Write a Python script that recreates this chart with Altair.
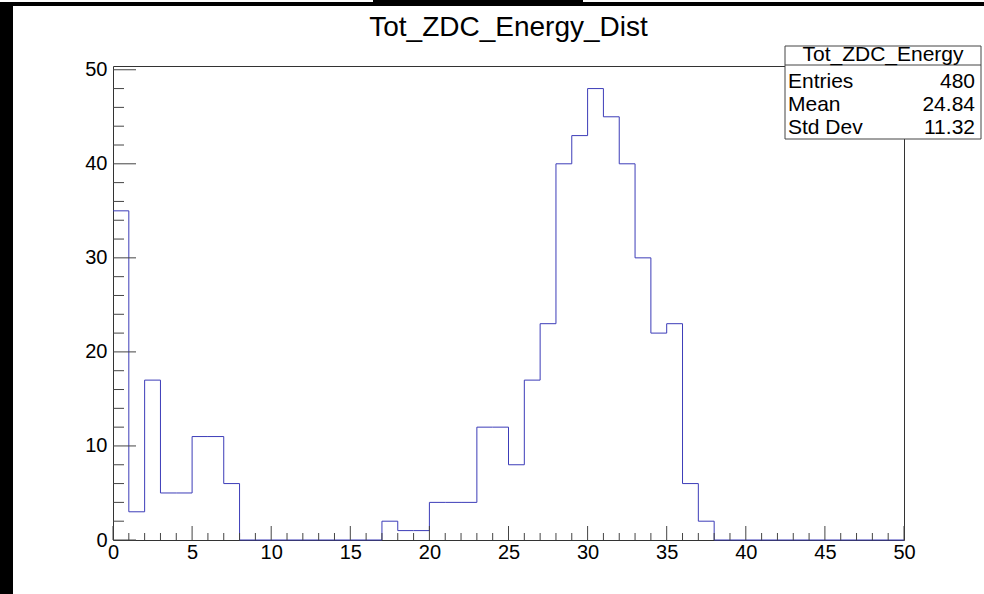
import altair as alt
import pandas as pd

# ---- data ----
bin_low_edges = list(range(0, 50))
counts = [35, 3, 17, 5, 5, 11, 11, 6, 0, 0,
          0, 0, 0, 0, 0, 0, 0, 2, 1, 1,
          4, 4, 4, 12, 12, 8, 17, 23, 40, 43,
          48, 45, 40, 30, 22, 23, 6, 2, 0, 0,
          0, 0, 0, 0, 0, 0, 0, 0, 0, 0]
x_label_values = [0, 5, 10, 15, 20, 25, 30, 35, 40, 45, 50]
y_label_values = [0, 10, 20, 30, 40, 50]
x_tick_values = list(range(0, 51, 1))
y_tick_values = list(range(0, 51, 2))
title_text = "Tot_ZDC_Energy_Dist"
stats_title = "Tot_ZDC_Energy"
stats_labels = ["Entries", "Mean", "Std Dev"]
stats_values = ["480", "24.84", "11.32"]

W, H = 791, 474
FONT = "Liberation Sans"
LINE_BLUE = "#3c3cb8"
X_DOMAIN = [0, 50]
Y_DOMAIN = [0, 50.4]

hist_df = pd.DataFrame({"edge": bin_low_edges + [50], "count": counts + [0]})
xs = alt.Scale(domain=X_DOMAIN, nice=False, zero=False)
ys = alt.Scale(domain=Y_DOMAIN, nice=False, zero=False)

hist = alt.Chart(hist_df).mark_line(
    interpolate="step-after", color=LINE_BLUE, strokeWidth=1
).encode(
    x=alt.X("edge:Q", scale=xs,
            axis=alt.Axis(values=x_label_values, ticks=False, domain=False, grid=False,
                          labelFont=FONT, labelFontSize=20, labelColor="black",
                          labelPadding=2, title=None, labelFlush=False)),
    y=alt.Y("count:Q", scale=ys,
            axis=alt.Axis(values=y_label_values, ticks=False, domain=False, grid=False,
                          labelFont=FONT, labelFontSize=20, labelColor="black",
                          labelPadding=6, title=None, labelFlush=False)),
)

xt_df = pd.DataFrame({"t": x_tick_values})
xt_df["major"] = xt_df["t"] % 5 == 0
yt_df = pd.DataFrame({"t": y_tick_values})
yt_df["major"] = yt_df["t"] % 10 == 0

tick_color = "#444444"
x_major = alt.Chart(xt_df).transform_filter("datum.major").mark_rule(color=tick_color, strokeWidth=1).encode(
    x=alt.X("t:Q", scale=xs), y=alt.value(H), y2=alt.value(H - 14))
x_minor = alt.Chart(xt_df).transform_filter("!datum.major").mark_rule(color=tick_color, strokeWidth=1).encode(
    x=alt.X("t:Q", scale=xs), y=alt.value(H), y2=alt.value(H - 7))
y_major = alt.Chart(yt_df).transform_filter("datum.major").mark_rule(color=tick_color, strokeWidth=1).encode(
    y=alt.Y("t:Q", scale=ys), x=alt.value(0), x2=alt.value(23))
y_minor = alt.Chart(yt_df).transform_filter("!datum.major").mark_rule(color=tick_color, strokeWidth=1).encode(
    y=alt.Y("t:Q", scale=ys), x=alt.value(0), x2=alt.value(11))

one = pd.DataFrame({"k": [0]})

# title as a text layer (centered on the plot area)
title = alt.Chart(pd.DataFrame({"s": [title_text]})).mark_text(
    font=FONT, fontSize=28, color="black", align="center", baseline="alphabetic"
).encode(x=alt.value(W / 2), y=alt.value(-30), text="s:N")

# stats box (positions relative to plot origin)
BX0, BX1, BY0, BY1 = 672, 868, -20, 73
box = alt.Chart(one).mark_rect(fill="white", stroke="#444444", strokeWidth=1).encode(
    x=alt.value(BX0), x2=alt.value(BX1), y=alt.value(BY0), y2=alt.value(BY1))
box_line = alt.Chart(one).mark_rule(color="#444444", strokeWidth=1).encode(
    x=alt.value(BX0), x2=alt.value(BX1), y=alt.value(-1))
box_title = alt.Chart(pd.DataFrame({"s": [stats_title]})).mark_text(
    font=FONT, fontSize=21, color="black", align="center", baseline="middle"
).encode(x=alt.value((BX0 + BX1) / 2), y=alt.value(-11), text="s:N")

stat_layers = []
for i, (lab, val) in enumerate(zip(stats_labels, stats_values)):
    ypix = 16 + 23 * i
    stat_layers.append(alt.Chart(pd.DataFrame({"s": [lab]})).mark_text(
        font=FONT, fontSize=21, color="black", align="left", baseline="middle"
    ).encode(x=alt.value(BX0 + 3), y=alt.value(ypix), text="s:N"))
    stat_layers.append(alt.Chart(pd.DataFrame({"s": [val]})).mark_text(
        font=FONT, fontSize=21, color="black", align="right", baseline="middle"
    ).encode(x=alt.value(BX1 - 6), y=alt.value(ypix), text="s:N"))

# black window edges seen in the screenshot
edge_left = alt.Chart(one).mark_rect(fill="black").encode(
    x=alt.value(-113), x2=alt.value(-100), y=alt.value(-63), y2=alt.value(H + 54))
edge_top = alt.Chart(one).mark_rect(fill="black").encode(
    x=alt.value(-113), x2=alt.value(W + 80), y=alt.value(-64), y2=alt.value(-60))
edge_top_mid = alt.Chart(one).mark_rect(fill="black").encode(
    x=alt.value(260), x2=alt.value(470), y=alt.value(-66), y2=alt.value(-60))

chart = alt.layer(
    hist, x_major, x_minor, y_major, y_minor, title,
    box, box_line, box_title, *stat_layers,
    edge_left, edge_top, edge_top_mid,
).properties(
    width=W, height=H,
    autosize=alt.AutoSizeParams(type="none"),
    padding={"left": 113, "top": 66, "right": 80, "bottom": 54},
    background="white",
).configure_view(
    stroke="#333333", strokeWidth=1
)

chart.save("out.html", embed_options={"renderer": "svg", "actions": False})
